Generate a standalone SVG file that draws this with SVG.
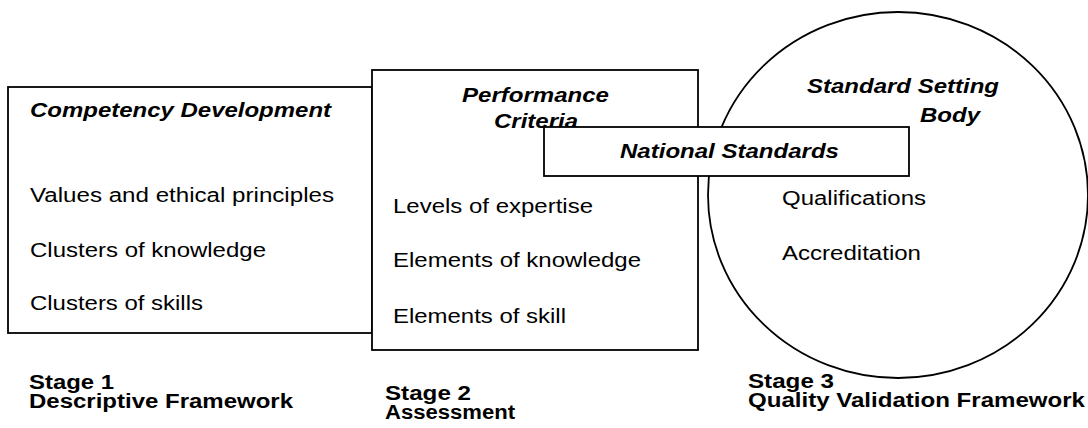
<svg xmlns="http://www.w3.org/2000/svg" width="1088" height="428" viewBox="0 0 1088 428">
  <style>
    .frame { fill: #fff; stroke: #000; stroke-width: 1.8; }
    .t { font-family: "Liberation Sans", Arial, sans-serif; font-size: 20px; fill: #000; }
    .h { font-weight: bold; font-style: italic; }
    .b { font-weight: bold; }
  </style>
  <rect width="1088" height="428" fill="#fff"/>

  <!-- Stage 1: competency development -->
  <g id="competency-development">
    <rect class="frame" x="8" y="87" width="364" height="246"/>
    <text class="t h" x="30" y="117" textLength="301" lengthAdjust="spacingAndGlyphs">Competency Development</text>
    <text class="t" x="30" y="202" textLength="304" lengthAdjust="spacingAndGlyphs">Values and ethical principles</text>
    <text class="t" x="30" y="257" textLength="236" lengthAdjust="spacingAndGlyphs">Clusters of knowledge</text>
    <text class="t" x="30" y="310" textLength="173" lengthAdjust="spacingAndGlyphs">Clusters of skills</text>
  </g>

  <!-- Stage 2: performance criteria -->
  <g id="performance-criteria">
    <rect class="frame" x="372" y="70" width="326" height="280"/>
    <text class="t h" x="462" y="102" textLength="147" lengthAdjust="spacingAndGlyphs">Performance</text>
    <text class="t h" x="494" y="128" textLength="84" lengthAdjust="spacingAndGlyphs">Criteria</text>
    <text class="t" x="393" y="213" textLength="200" lengthAdjust="spacingAndGlyphs">Levels of expertise</text>
    <text class="t" x="393" y="267" textLength="248" lengthAdjust="spacingAndGlyphs">Elements of knowledge</text>
    <text class="t" x="393" y="323" textLength="173" lengthAdjust="spacingAndGlyphs">Elements of skill</text>
  </g>

  <!-- Stage 3: standard setting body -->
  <g id="standard-setting-body">
    <ellipse class="frame" cx="898" cy="195" rx="190" ry="183"/>
    <text class="t h" x="807" y="93" textLength="192" lengthAdjust="spacingAndGlyphs">Standard Setting</text>
    <text class="t h" x="920" y="122" textLength="60" lengthAdjust="spacingAndGlyphs">Body</text>
    <text class="t" x="782" y="205" textLength="144" lengthAdjust="spacingAndGlyphs">Qualifications</text>
    <text class="t" x="782" y="260" textLength="139" lengthAdjust="spacingAndGlyphs">Accreditation</text>
  </g>

  <!-- Banner laid across stages 2 and 3 -->
  <g id="national-standards">
    <rect class="frame" x="544" y="127" width="365" height="49"/>
    <text class="t h" x="620" y="158" textLength="219" lengthAdjust="spacingAndGlyphs">National Standards</text>
  </g>

  <!-- Stage captions -->
  <g id="stage-1-caption">
    <text class="t b" x="29" y="389" textLength="85" lengthAdjust="spacingAndGlyphs">Stage 1</text>
    <text class="t b" x="29" y="408" textLength="264" lengthAdjust="spacingAndGlyphs">Descriptive Framework</text>
  </g>
  <g id="stage-2-caption">
    <text class="t b" x="385" y="400" textLength="86" lengthAdjust="spacingAndGlyphs">Stage 2</text>
    <text class="t b" x="385" y="419" textLength="130" lengthAdjust="spacingAndGlyphs">Assessment</text>
  </g>
  <g id="stage-3-caption">
    <text class="t b" x="748" y="388" textLength="86" lengthAdjust="spacingAndGlyphs">Stage 3</text>
    <text class="t b" x="748" y="407" textLength="337" lengthAdjust="spacingAndGlyphs">Quality Validation Framework</text>
  </g>

  <g id="connectors"/>
</svg>
